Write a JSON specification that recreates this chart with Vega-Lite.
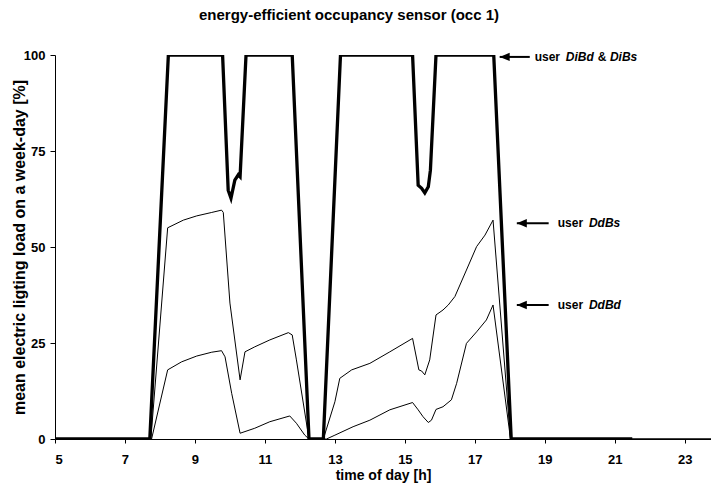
{
  "$schema": "https://vega.github.io/schema/vega-lite/v6.json",
  "autosize": "none",
  "width": 656,
  "height": 384,
  "padding": {"left": 55, "top": 55, "right": 0, "bottom": 50},
  "background": "white",
  "title": {
    "text": "energy-efficient occupancy sensor  (occ 1)",
    "font": "Liberation Sans",
    "fontSize": 15,
    "fontWeight": "bold",
    "color": "black",
    "anchor": "middle",
    "frame": "group",
    "dx": -34,
    "offset": 26
  },
  "config": {
    "view": {"stroke": null},
    "font": "Liberation Sans",
    "axis": {
      "grid": false,
      "domainColor": "black",
      "domainWidth": 1,
      "tickColor": "black",
      "labelColor": "black",
      "titleColor": "black",
      "labelFont": "Liberation Sans",
      "titleFont": "Liberation Sans",
      "labelFontWeight": "bold",
      "titleFontWeight": "bold",
      "labelFontSize": 13,
      "titleFontSize": 14
    }
  },
  "datasets": {
    "thick": [
      {"t": 5, "v": 0}, {"t": 7.71, "v": 0}, {"t": 8.24, "v": 100}, {"t": 9.79, "v": 100},
      {"t": 9.95, "v": 64.8}, {"t": 10.03, "v": 62.7}, {"t": 10.14, "v": 67.4}, {"t": 10.24, "v": 68.8},
      {"t": 10.29, "v": 68.3}, {"t": 10.46, "v": 100}, {"t": 11.78, "v": 100}, {"t": 12.26, "v": 0},
      {"t": 12.67, "v": 0}, {"t": 13.16, "v": 100}, {"t": 15.22, "v": 100}, {"t": 15.38, "v": 66.1},
      {"t": 15.48, "v": 65.3}, {"t": 15.57, "v": 64.1}, {"t": 15.67, "v": 65.7}, {"t": 15.73, "v": 70},
      {"t": 15.89, "v": 100}, {"t": 17.54, "v": 100}, {"t": 18.04, "v": 0}, {"t": 21.5, "v": 0}
    ],
    "thin": [
      {"series": "DdBs", "t": 5, "v": 0}, {"series": "DdBs", "t": 7.74, "v": 0},
      {"series": "DdBs", "t": 8.22, "v": 55.0}, {"series": "DdBs", "t": 8.67, "v": 57.0},
      {"series": "DdBs", "t": 9.05, "v": 58.1}, {"series": "DdBs", "t": 9.48, "v": 59.0},
      {"series": "DdBs", "t": 9.76, "v": 59.6}, {"series": "DdBs", "t": 9.81, "v": 59.0},
      {"series": "DdBs", "t": 10.0, "v": 35.4}, {"series": "DdBs", "t": 10.29, "v": 15.4},
      {"series": "DdBs", "t": 10.43, "v": 22.7}, {"series": "DdBs", "t": 10.71, "v": 24.0},
      {"series": "DdBs", "t": 11.14, "v": 25.8}, {"series": "DdBs", "t": 11.67, "v": 27.7},
      {"series": "DdBs", "t": 11.78, "v": 27.1}, {"series": "DdBs", "t": 11.9, "v": 20.6},
      {"series": "DdBs", "t": 12.26, "v": 0}, {"series": "DdBs", "t": 12.67, "v": 0},
      {"series": "DdBs", "t": 13.0, "v": 9.7}, {"series": "DdBs", "t": 13.14, "v": 15.8},
      {"series": "DdBs", "t": 13.48, "v": 18.0}, {"series": "DdBs", "t": 14.0, "v": 19.7},
      {"series": "DdBs", "t": 14.57, "v": 22.7}, {"series": "DdBs", "t": 15.22, "v": 26.2},
      {"series": "DdBs", "t": 15.4, "v": 18.0}, {"series": "DdBs", "t": 15.48, "v": 17.7},
      {"series": "DdBs", "t": 15.57, "v": 16.7}, {"series": "DdBs", "t": 15.71, "v": 20.6},
      {"series": "DdBs", "t": 15.89, "v": 32.3}, {"series": "DdBs", "t": 16.09, "v": 33.6},
      {"series": "DdBs", "t": 16.24, "v": 34.9}, {"series": "DdBs", "t": 16.43, "v": 37.1},
      {"series": "DdBs", "t": 16.76, "v": 44.0}, {"series": "DdBs", "t": 17.05, "v": 50.1},
      {"series": "DdBs", "t": 17.29, "v": 53.1}, {"series": "DdBs", "t": 17.52, "v": 57.0},
      {"series": "DdBs", "t": 18.02, "v": 0}, {"series": "DdBs", "t": 23.75, "v": 0},
      {"series": "DdBd", "t": 5, "v": 0}, {"series": "DdBd", "t": 7.76, "v": 0},
      {"series": "DdBd", "t": 8.22, "v": 18.0}, {"series": "DdBd", "t": 8.62, "v": 20.1},
      {"series": "DdBd", "t": 9.05, "v": 21.6}, {"series": "DdBd", "t": 9.48, "v": 22.6},
      {"series": "DdBd", "t": 9.76, "v": 23.0}, {"series": "DdBd", "t": 9.86, "v": 21.4},
      {"series": "DdBd", "t": 10.05, "v": 11.9}, {"series": "DdBd", "t": 10.29, "v": 1.5},
      {"series": "DdBd", "t": 10.71, "v": 2.8}, {"series": "DdBd", "t": 11.14, "v": 4.5},
      {"series": "DdBd", "t": 11.71, "v": 6.0}, {"series": "DdBd", "t": 11.9, "v": 4.1},
      {"series": "DdBd", "t": 12.14, "v": 1.0}, {"series": "DdBd", "t": 12.26, "v": 0},
      {"series": "DdBd", "t": 12.76, "v": 0}, {"series": "DdBd", "t": 13.0, "v": 1.0},
      {"series": "DdBd", "t": 13.52, "v": 3.2}, {"series": "DdBd", "t": 14.0, "v": 4.9},
      {"series": "DdBd", "t": 14.57, "v": 7.6}, {"series": "DdBd", "t": 15.22, "v": 9.5},
      {"series": "DdBd", "t": 15.38, "v": 7.6}, {"series": "DdBd", "t": 15.52, "v": 5.8},
      {"series": "DdBd", "t": 15.67, "v": 4.3}, {"series": "DdBd", "t": 15.76, "v": 4.9},
      {"series": "DdBd", "t": 15.89, "v": 7.7}, {"series": "DdBd", "t": 16.09, "v": 8.4},
      {"series": "DdBd", "t": 16.33, "v": 10.2}, {"series": "DdBd", "t": 16.48, "v": 14.5},
      {"series": "DdBd", "t": 16.76, "v": 24.9}, {"series": "DdBd", "t": 17.05, "v": 27.9},
      {"series": "DdBd", "t": 17.33, "v": 31.0}, {"series": "DdBd", "t": 17.52, "v": 34.9},
      {"series": "DdBd", "t": 18.02, "v": 0}, {"series": "DdBd", "t": 23.75, "v": 0}
    ],
    "arrows": [
      {"t": 17.71, "t2": 18.57, "v": 99.5},
      {"t": 18.2, "t2": 19.11, "v": 56.2},
      {"t": 18.2, "t2": 19.11, "v": 34.9}
    ],
    "plain": [
      {"t": 18.71, "v": 99.5, "label": "user"},
      {"t": 20.51, "v": 99.5, "label": "&"},
      {"t": 19.37, "v": 56.2, "label": "user"},
      {"t": 19.37, "v": 34.9, "label": "user"}
    ],
    "italic": [
      {"t": 19.6, "v": 99.5, "label": "DiBd"},
      {"t": 20.86, "v": 99.5, "label": "DiBs"},
      {"t": 20.26, "v": 56.2, "label": "DdBs"},
      {"t": 20.26, "v": 34.9, "label": "DdBd"}
    ]
  },
  "layer": [
    {
      "data": {"name": "thin"},
      "mark": {"type": "line", "color": "black", "strokeWidth": 1, "clip": true},
      "encoding": {
        "x": {
          "field": "t", "type": "quantitative",
          "scale": {"domain": [5, 23.75], "nice": false, "zero": false},
          "axis": {
            "title": "time of day [h]",
            "values": [5, 7, 9, 11, 13, 15, 17, 19, 21, 23],
            "tickSize": 4,
            "labelPadding": 10,
            "titlePadding": 2
          }
        },
        "y": {
          "field": "v", "type": "quantitative",
          "scale": {"domain": [0, 100], "nice": false},
          "axis": {
            "title": "mean electric ligting load on a week-day [%]",
            "titleFontSize": 16,
            "values": [0, 25, 50, 75, 100],
            "tickSize": 5,
            "labelPadding": 5,
            "titlePadding": -4
          }
        },
        "detail": {"field": "series"}
      }
    },
    {
      "data": {"name": "thick"},
      "mark": {"type": "line", "color": "black", "strokeWidth": 3.3, "clip": true},
      "encoding": {
        "x": {"field": "t", "type": "quantitative"},
        "y": {"field": "v", "type": "quantitative"}
      }
    },
    {
      "data": {"name": "arrows"},
      "mark": {"type": "rule", "color": "black", "strokeWidth": 2},
      "encoding": {
        "x": {"field": "t", "type": "quantitative"},
        "x2": {"field": "t2"},
        "y": {"field": "v", "type": "quantitative"}
      }
    },
    {
      "data": {"name": "arrows"},
      "mark": {"type": "point", "filled": true, "opacity": 1, "color": "black", "size": 400, "shape": "M0,0L1,-0.42L1,0.42Z"},
      "encoding": {
        "x": {"field": "t", "type": "quantitative"},
        "y": {"field": "v", "type": "quantitative"}
      }
    },
    {
      "data": {"name": "plain"},
      "mark": {"type": "text", "align": "left", "baseline": "middle", "font": "Liberation Sans", "fontSize": 12, "fontWeight": "bold", "color": "black"},
      "encoding": {
        "x": {"field": "t", "type": "quantitative"},
        "y": {"field": "v", "type": "quantitative"},
        "text": {"field": "label"}
      }
    },
    {
      "data": {"name": "italic"},
      "mark": {"type": "text", "align": "left", "baseline": "middle", "font": "Liberation Sans", "fontSize": 12, "fontWeight": "bold", "fontStyle": "italic", "color": "black"},
      "encoding": {
        "x": {"field": "t", "type": "quantitative"},
        "y": {"field": "v", "type": "quantitative"},
        "text": {"field": "label"}
      }
    }
  ]
}
